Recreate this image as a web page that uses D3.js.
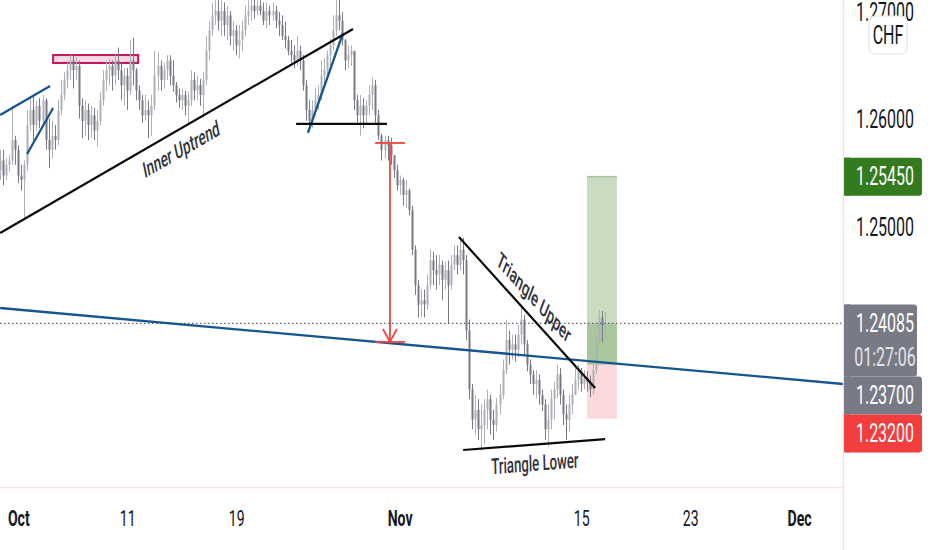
<!DOCTYPE html>
<html><head><meta charset="utf-8">
<script src="https://cdn.jsdelivr.net/npm/d3@7/dist/d3.min.js"></script>
<style>html,body{margin:0;padding:0;background:#fff;overflow:hidden}</style>
</head><body>
<svg id="c" width="932" height="550"></svg>
<script>
// ---------- DATA ----------
// 4h candles [open, high, low, close], starting Sep 30 (6 bars per trading day)
const candles = [
[1.2551,1.2570,1.2542,1.2560],[1.2560,1.2570,1.2537,1.2546],[1.2546,1.2562,1.2542,1.2556],[1.2556,1.2565,1.2549,1.2560],[1.2560,1.2611,1.2556,1.2579],[1.2579,1.2583,1.2556,1.2570],
[1.2570,1.2574,1.2539,1.2546],[1.2546,1.2556,1.2532,1.2542],[1.2542,1.2560,1.2505,1.2556],[1.2556,1.2607,1.2551,1.2593],[1.2593,1.2619,1.2588,1.2607],[1.2607,1.2621,1.2579,1.2593],
[1.2593,1.2616,1.2588,1.2611],[1.2611,1.2618,1.2590,1.2597],[1.2597,1.2621,1.2593,1.2616],[1.2616,1.2618,1.2570,1.2579],[1.2579,1.2599,1.2553,1.2570],[1.2570,1.2597,1.2562,1.2583],
[1.2583,1.2593,1.2570,1.2579],[1.2579,1.2616,1.2574,1.2607],[1.2607,1.2635,1.2602,1.2621],[1.2621,1.2642,1.2616,1.2635],[1.2635,1.2651,1.2627,1.2644],[1.2644,1.2658,1.2635,1.2653],
[1.2653,1.2658,1.2627,1.2644],[1.2644,1.2656,1.2635,1.2648],[1.2648,1.2653,1.2599,1.2611],[1.2611,1.2618,1.2581,1.2597],[1.2597,1.2616,1.2583,1.2607],[1.2607,1.2613,1.2579,1.2593],
[1.2593,1.2611,1.2581,1.2602],[1.2602,1.2609,1.2579,1.2588],[1.2588,1.2607,1.2573,1.2597],[1.2597,1.2624,1.2593,1.2616],[1.2616,1.2644,1.2611,1.2635],[1.2635,1.2653,1.2625,1.2644],
[1.2644,1.2655,1.2630,1.2648],[1.2648,1.2653,1.2625,1.2639],[1.2639,1.2658,1.2630,1.2653],[1.2653,1.2665,1.2635,1.2644],[1.2644,1.2651,1.2616,1.2630],[1.2630,1.2646,1.2611,1.2639],
[1.2639,1.2646,1.2607,1.2625],[1.2625,1.2672,1.2621,1.2653],[1.2653,1.2674,1.2630,1.2644],[1.2644,1.2646,1.2616,1.2625],[1.2625,1.2630,1.2607,1.2616],[1.2616,1.2621,1.2595,1.2602],
[1.2602,1.2621,1.2597,1.2607],[1.2607,1.2616,1.2581,1.2602],[1.2602,1.2621,1.2583,1.2611],[1.2611,1.2662,1.2607,1.2639],[1.2639,1.2661,1.2625,1.2648],[1.2648,1.2653,1.2625,1.2635],
[1.2635,1.2651,1.2627,1.2644],[1.2644,1.2658,1.2635,1.2653],[1.2653,1.2658,1.2630,1.2639],[1.2639,1.2653,1.2624,1.2630],[1.2630,1.2633,1.2614,1.2621],[1.2621,1.2627,1.2609,1.2616],
[1.2616,1.2627,1.2607,1.2621],[1.2621,1.2625,1.2602,1.2611],[1.2611,1.2624,1.2594,1.2616],[1.2616,1.2644,1.2611,1.2635],[1.2635,1.2642,1.2616,1.2625],[1.2625,1.2639,1.2616,1.2630],
[1.2630,1.2636,1.2611,1.2621],[1.2621,1.2642,1.2600,1.2635],[1.2635,1.2676,1.2630,1.2662],[1.2662,1.2690,1.2653,1.2681],[1.2681,1.2707,1.2676,1.2695],[1.2695,1.2709,1.2686,1.2699],
[1.2699,1.2709,1.2681,1.2690],[1.2690,1.2709,1.2676,1.2699],[1.2699,1.2707,1.2676,1.2686],[1.2686,1.2704,1.2672,1.2695],[1.2695,1.2699,1.2667,1.2676],[1.2676,1.2690,1.2662,1.2681],
[1.2681,1.2686,1.2658,1.2667],[1.2667,1.2686,1.2655,1.2672],[1.2672,1.2690,1.2662,1.2681],[1.2681,1.2704,1.2676,1.2695],[1.2695,1.2709,1.2686,1.2699],[1.2699,1.2713,1.2690,1.2704],
[1.2704,1.2713,1.2692,1.2699],[1.2699,1.2709,1.2695,1.2704],[1.2704,1.2709,1.2695,1.2699],[1.2699,1.2707,1.2686,1.2690],[1.2690,1.2707,1.2683,1.2699],[1.2699,1.2704,1.2686,1.2695],
[1.2695,1.2707,1.2690,1.2699],[1.2699,1.2704,1.2683,1.2690],[1.2690,1.2698,1.2676,1.2686],[1.2686,1.2695,1.2672,1.2676],[1.2676,1.2689,1.2664,1.2672],[1.2672,1.2676,1.2658,1.2662],
[1.2662,1.2672,1.2651,1.2658],[1.2658,1.2667,1.2646,1.2653],[1.2653,1.2676,1.2648,1.2662],[1.2662,1.2667,1.2644,1.2653],[1.2653,1.2658,1.2625,1.2630],[1.2630,1.2635,1.2597,1.2607],
[1.2607,1.2616,1.2588,1.2597],[1.2597,1.2616,1.2590,1.2607],[1.2607,1.2627,1.2602,1.2616],[1.2616,1.2630,1.2607,1.2621],[1.2621,1.2653,1.2616,1.2639],[1.2639,1.2655,1.2630,1.2644],
[1.2644,1.2662,1.2635,1.2658],[1.2658,1.2673,1.2648,1.2667],[1.2667,1.2695,1.2662,1.2681],[1.2681,1.2709,1.2676,1.2695],[1.2695,1.2711,1.2681,1.2690],[1.2690,1.2698,1.2667,1.2672],
[1.2672,1.2673,1.2644,1.2653],[1.2653,1.2667,1.2646,1.2658],[1.2658,1.2667,1.2648,1.2662],[1.2662,1.2662,1.2607,1.2616],[1.2616,1.2621,1.2593,1.2602],[1.2602,1.2621,1.2583,1.2611],
[1.2611,1.2618,1.2590,1.2602],[1.2602,1.2616,1.2593,1.2611],[1.2611,1.2630,1.2602,1.2621],[1.2621,1.2637,1.2607,1.2630],[1.2630,1.2635,1.2593,1.2602],[1.2602,1.2607,1.2579,1.2583],
[1.2583,1.2585,1.2560,1.2570],[1.2570,1.2583,1.2562,1.2579],[1.2579,1.2583,1.2560,1.2574],[1.2574,1.2581,1.2556,1.2565],[1.2565,1.2565,1.2544,1.2551],[1.2551,1.2556,1.2532,1.2537],
[1.2537,1.2546,1.2528,1.2542],[1.2542,1.2544,1.2518,1.2528],[1.2528,1.2542,1.2516,1.2532],[1.2532,1.2534,1.2509,1.2514],[1.2514,1.2518,1.2472,1.2477],[1.2477,1.2481,1.2435,1.2444],
[1.2444,1.2449,1.2414,1.2426],[1.2426,1.2440,1.2414,1.2430],[1.2430,1.2440,1.2414,1.2426],[1.2426,1.2454,1.2421,1.2444],[1.2444,1.2477,1.2440,1.2467],[1.2467,1.2475,1.2444,1.2458],
[1.2458,1.2472,1.2440,1.2454],[1.2454,1.2472,1.2444,1.2463],[1.2463,1.2467,1.2430,1.2449],[1.2449,1.2466,1.2440,1.2458],[1.2458,1.2467,1.2408,1.2444],[1.2444,1.2472,1.2440,1.2463],
[1.2463,1.2481,1.2458,1.2472],[1.2472,1.2481,1.2454,1.2463],[1.2463,1.2486,1.2458,1.2477],[1.2477,1.2488,1.2454,1.2467],[1.2467,1.2472,1.2393,1.2402],[1.2402,1.2412,1.2338,1.2347],
[1.2347,1.2352,1.2310,1.2319],[1.2319,1.2342,1.2305,1.2328],[1.2328,1.2338,1.2300,1.2310],[1.2310,1.2333,1.2290,1.2314],[1.2314,1.2338,1.2296,1.2328],[1.2328,1.2347,1.2310,1.2338],
[1.2338,1.2342,1.2305,1.2319],[1.2319,1.2328,1.2300,1.2314],[1.2314,1.2339,1.2308,1.2333],[1.2333,1.2352,1.2324,1.2342],[1.2342,1.2375,1.2338,1.2365],[1.2365,1.2412,1.2361,1.2393],
[1.2393,1.2402,1.2370,1.2384],[1.2384,1.2398,1.2375,1.2389],[1.2389,1.2398,1.2373,1.2384],[1.2384,1.2407,1.2377,1.2398],[1.2398,1.2426,1.2389,1.2412],[1.2412,1.2416,1.2379,1.2389],
[1.2389,1.2393,1.2364,1.2370],[1.2370,1.2375,1.2352,1.2361],[1.2361,1.2365,1.2342,1.2352],[1.2352,1.2365,1.2339,1.2356],[1.2356,1.2361,1.2333,1.2342],[1.2342,1.2347,1.2327,1.2333],
[1.2333,1.2338,1.2300,1.2310],[1.2310,1.2333,1.2294,1.2319],[1.2319,1.2347,1.2310,1.2338],[1.2338,1.2354,1.2319,1.2347],[1.2347,1.2370,1.2339,1.2361],[1.2361,1.2367,1.2333,1.2342],
[1.2342,1.2347,1.2314,1.2324],[1.2324,1.2333,1.2300,1.2319],[1.2319,1.2342,1.2308,1.2333],[1.2333,1.2352,1.2324,1.2342],[1.2342,1.2370,1.2342,1.2356],[1.2356,1.2370,1.2347,1.2364],
[1.2364,1.2367,1.2345,1.2352],[1.2352,1.2365,1.2347,1.2358],[1.2358,1.2364,1.2345,1.2354],[1.2354,1.2360,1.2340,1.2347],[1.2347,1.2375,1.2342,1.2365],[1.2365,1.2398,1.2361,1.2393],
[1.2393,1.2421,1.2389,1.2414],[1.2414,1.2420,1.2391,1.2407],[1.2407,1.2419,1.2398,1.24085]
];
const xTickLabels = ["Oct","11","19","Nov","15","23","Dec"];
const xTickIndex  = [6, 42, 78, 132, 192, 228, 264];
const xTickMonth  = [true,false,false,true,false,false,true];
const yTicks = [1.23, 1.24, 1.25, 1.26, 1.27];
const currency = "CHF";
const lastPrice = 1.24085;
const countdown = "01:27:06";
const entryPrice = 1.237, targetPrice = 1.2545, stopPrice = 1.232;
const positionRange = [193.9, 203.8];           // bar index span of long-position tool
// drawings, anchored at [bar index, price]
const blueLines = [
  [[0, 1.26023], [16.5, 1.26293]],
  [[8.9, 1.25660], [17.5, 1.26088]],
  [[101.7, 1.25856], [113.3, 1.26786]],
  [[0, 1.24228], [278.5, 1.23521]]
];
const blackLines = [
  [[0, 1.24926], [116.6, 1.26823]],     // Inner Uptrend
  [[97.8, 1.25940], [127.8, 1.25940]],
  [[151.6, 1.24888], [196.6, 1.23484]], // Triangle Upper
  [[153, 1.22907], [199.9, 1.23009]]    // Triangle Lower
];
const zoneRect = {i0: 17.5, i1: 45.6, p0: 1.26507, p1: 1.26581};
const measure = {i0: 123.9, i1: 133.8, im: 128.8, pTop: 1.25763, pBot: 1.23912};
const notes = [
  {text: "Inner Uptrend",  i: 59.8,  p: 1.25707, line: 0},
  {text: "Triangle Upper", i: 176.4, p: 1.24330, line: 2},
  {text: "Triangle Lower", i: 176.7, p: 1.22786, line: 3}
];

// ---------- LAYOUT ----------
const W = 932, H = 550, plotW = 843, plotH = 487;
const SX = 0.64;   // horizontal squeeze of glyphs seen in the reference
const FONT = "Roboto, 'Noto Sans', sans-serif";
const svg = d3.select("#c");
const x = d3.scaleLinear().domain([-0.05, 278.5]).range([0, plotW]);
const y = d3.scaleLinear().domain([1.22563, 1.27093]).range([plotH, 0]);

svg.append("rect").attr("width", W).attr("height", H).attr("fill", "#fff");
svg.append("defs").append("clipPath").attr("id", "plot")
  .append("rect").attr("width", plotW).attr("height", plotH);
const plot = svg.append("g").attr("clip-path", "url(#plot)");

// position tool
const px0 = x(positionRange[0]), px1 = x(positionRange[1]);
plot.append("rect").attr("x", px0).attr("width", px1 - px0)
  .attr("y", y(targetPrice)).attr("height", y(entryPrice) - y(targetPrice)).attr("fill", "#c9dcc1");
plot.append("rect").attr("x", px0).attr("width", px1 - px0)
  .attr("y", y(lastPrice)).attr("height", y(entryPrice) - y(lastPrice)).attr("fill", "#a9c69d");
plot.append("rect").attr("x", px0).attr("width", px1 - px0)
  .attr("y", y(entryPrice)).attr("height", y(stopPrice) - y(entryPrice)).attr("fill", "#fbd9da");
plot.append("line").attr("x1", px0).attr("x2", px1).attr("y1", y(targetPrice)).attr("y2", y(targetPrice))
  .attr("stroke", "#a9c69d").attr("stroke-width", 1.5);

// zone rectangle
plot.append("rect").attr("x", x(zoneRect.i0)).attr("width", x(zoneRect.i1) - x(zoneRect.i0))
  .attr("y", y(zoneRect.p1)).attr("height", y(zoneRect.p0) - y(zoneRect.p1))
  .attr("fill", "#f6d9e3").attr("stroke", "#c2185b").attr("stroke-width", 2);

// candles
const cg = plot.append("g");
candles.forEach((d, i) => {
  const [o, h, l, c] = d;
  const cx = Math.round(x(i));
  const col = c >= o ? "#aeb0b8" : "#777a84";
  cg.append("line").attr("x1", cx + 0.5).attr("x2", cx + 0.5).attr("y1", y(h)).attr("y2", y(l))
    .attr("stroke", col).attr("stroke-width", 1);
  const top = y(Math.max(o, c)), bot = y(Math.min(o, c));
  cg.append("rect").attr("x", cx - 0.5).attr("width", 2).attr("y", top)
    .attr("height", Math.max(1, bot - top)).attr("fill", col);
});

// current price dotted line
plot.append("line").attr("x1", 0).attr("x2", plotW).attr("y1", y(lastPrice)).attr("y2", y(lastPrice))
  .attr("stroke", "#5d616c").attr("stroke-width", 1.4).attr("stroke-dasharray", "1.4,2.6");

const lineGen = d3.line().x(d => x(d[0])).y(d => y(d[1]));
blueLines.forEach(l => plot.append("path").attr("d", lineGen(l)).attr("fill", "none")
  .attr("stroke", "#17558f").attr("stroke-width", 2.3));
blackLines.forEach(l => plot.append("path").attr("d", lineGen(l)).attr("fill", "none")
  .attr("stroke", "#0b0b0b").attr("stroke-width", 2.2));

// red measure
const red = "#f0453a";
const mg = plot.append("g").attr("stroke", red).attr("stroke-width", 1.8).attr("fill", "none");
mg.append("line").attr("x1", x(measure.i0)).attr("x2", x(measure.i1)).attr("y1", y(measure.pTop)).attr("y2", y(measure.pTop));
mg.append("line").attr("x1", x(measure.i0)).attr("x2", x(measure.i1)).attr("y1", y(measure.pBot)).attr("y2", y(measure.pBot));
mg.append("line").attr("x1", x(measure.im)).attr("x2", x(measure.im)).attr("y1", y(measure.pTop)).attr("y2", y(measure.pBot));
mg.append("path").attr("d", `M${x(measure.im) - 7},${y(measure.pBot) - 13} L${x(measure.im)},${y(measure.pBot)} L${x(measure.im) + 7},${y(measure.pBot) - 13}`);

// annotation texts
const NSX = 0.6;
notes.forEach(n => {
  const l = blackLines[n.line];
  const dx = x(l[1][0]) - x(l[0][0]), dy = y(l[1][1]) - y(l[0][1]);
  const ang = Math.atan2(dy, dx / NSX) * 180 / Math.PI;
  plot.append("text").attr("transform", `translate(${x(n.i)},${y(n.p)}) scale(${NSX},1) rotate(${ang})`)
    .attr("text-anchor", "middle").attr("dominant-baseline", "central")
    .style("font-family", FONT).style("font-size", "22px").style("font-weight", "500")
    .attr("fill", "#2f323b").text(n.text);
});

// axes frame
svg.append("line").attr("x1", plotW + 0.5).attr("x2", plotW + 0.5).attr("y1", 0).attr("y2", H)
  .attr("stroke", "#f5e1e5").attr("stroke-width", 1.5);
svg.append("line").attr("x1", 0).attr("x2", plotW).attr("y1", plotH + 0.5).attr("y2", plotH + 0.5)
  .attr("stroke", "#f5e1e5").attr("stroke-width", 1.5);

// price labels (stacked to avoid overlap) — layout first, so hidden ticks can be skipped
const labels = [
  {p: targetPrice, fill: "#347b1f", lines: [d3.format(".5f")(targetPrice)], w: 78},
  {p: lastPrice, fill: "#787b86", lines: [d3.format(".5f")(lastPrice), countdown], w: 73},
  {p: entryPrice, fill: "#787b86", lines: [d3.format(".5f")(entryPrice)], w: 78},
  {p: stopPrice, fill: "#f23e3e", lines: [d3.format(".5f")(stopPrice)], w: 78}
].sort((a, b) => b.p - a.p);
const lineH = 34, padV = 2;
let prevBottom = -Infinity;
labels.forEach(L => {
  const h = L.lines.length * lineH + padV * 2;
  let top = y(L.p) - lineH / 2 - padV;
  if (top < prevBottom) top = prevBottom;
  prevBottom = top + h;
  L.top = top; L.h = h;
});
const hidden = v => labels.some(L => y(v) + 9 > L.top && y(v) - 9 < L.top + L.h);

// y axis
const yAxis = svg.append("g").attr("transform", `translate(${plotW},0)`)
  .call(d3.axisRight(y).tickValues(yTicks.filter(v => !hidden(v))).tickSize(0).tickFormat(d3.format(".5f")));
yAxis.select(".domain").remove();
yAxis.selectAll("text").attr("x", null).attr("dy", null)
  .attr("transform", `translate(42,2) scale(${SX},1)`)
  .attr("text-anchor", "middle").attr("dominant-baseline", "central")
  .style("font-family", FONT).style("font-size", "25px").attr("fill", "#131722");

// x axis
const xAxis = svg.append("g").attr("transform", `translate(0,${plotH})`)
  .call(d3.axisBottom(x).tickValues(xTickIndex).tickSize(0).tickFormat((d, i) => xTickLabels[i]));
xAxis.select(".domain").remove();
xAxis.selectAll("text").attr("y", null).attr("dy", null)
  .attr("transform", `translate(0,32) scale(${SX},1)`)
  .attr("dominant-baseline", "central")
  .style("font-family", FONT).style("font-size", "22px")
  .style("font-weight", (d, i) => xTickMonth[i] ? "700" : "400").attr("fill", "#131722");

// currency badge
svg.append("rect").attr("x", 869).attr("y", 16).attr("width", 38).attr("height", 38).attr("rx", 6)
  .attr("fill", "#fff").attr("stroke", "#e0e3eb").attr("stroke-width", 1.2);
svg.append("text").attr("transform", `translate(888,36) scale(${SX},1)`).attr("text-anchor", "middle")
  .attr("dominant-baseline", "central").style("font-family", FONT).style("font-size", "25px")
  .attr("fill", "#131722").text(currency);

labels.forEach(L => {
  const g = svg.append("g");
  g.append("rect").attr("x", plotW + 1).attr("y", L.top).attr("width", L.w).attr("height", L.h).attr("rx", 3).attr("fill", L.fill);
  g.append("rect").attr("x", plotW + 1).attr("y", L.top).attr("width", 6).attr("height", L.h).attr("fill", L.fill);
  L.lines.forEach((t, k) => {
    g.append("text").attr("transform", `translate(${plotW + 42},${L.top + padV + lineH / 2 + k * lineH}) scale(${SX},1)`)
      .attr("text-anchor", "middle").attr("dominant-baseline", "central")
      .style("font-family", FONT).style("font-size", "25px")
      .attr("fill", k === 0 ? "#ffffff" : "#e3e5ea").text(t);
  });
});
</script>
</body></html>
